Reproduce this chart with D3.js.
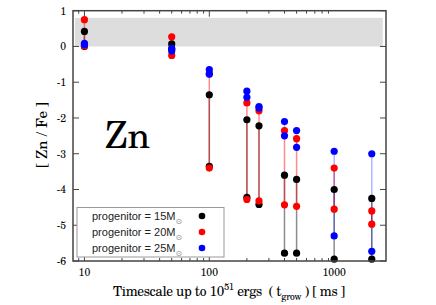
<!DOCTYPE html>
<html>
<head>
<meta charset="utf-8">
<script src="https://cdn.jsdelivr.net/npm/d3@7"></script>
<style>
  body { margin: 0; background: #fff; }
</style>
</head>
<body>
<div id="chart"></div>
<script>
// DATA
// timescales (ms) where the models were run
var timescales = [10, 50, 100, 200, 250, 400, 500, 1000, 2000];
// two [Zn/Fe] values per timescale for each progenitor
var m15 = [[0.0, 0.42], [0.07, -0.08], [-1.35, -3.35], [-2.05, -4.22], [-2.22, -4.42], [-3.6, -5.78], [-3.72, -5.78], [-4.0, -5.95], [-4.25, -5.95]];
var m20 = [[0.02, 0.75], [0.27, -0.25], [-0.75, -3.4], [-1.58, -4.28], [-1.8, -4.32], [-2.35, -4.43], [-2.58, -4.47], [-3.4, -4.55], [-4.6, -4.97]];
var m25 = [[0.05, 0.09], [-0.05, -0.13], [-0.65, -0.78], [-1.25, -1.42], [-1.68, -1.72], [-2.1, -2.5], [-2.35, -2.82], [-2.93, -5.3], [-3.0, -5.73]];
var seriesNames = ["progenitor = 15M", "progenitor = 20M", "progenitor = 25M"];
var xTicks = [10, 100, 1000];
var yTicks = [-6, -5, -4, -3, -2, -1, 0, 1];
var solarBand = [0, 0.8];

var W = 436, H = 305;
var serif = "'TeX Gyre Schola', 'Liberation Serif'";
var sans = "'Liberation Sans', 'DejaVu Sans'";

var svg = d3.select("#chart").append("svg")
  .attr("width", W).attr("height", H);

// scales
var x = d3.scaleLog().domain([8.1, 2600]).range([73, 386]);
var y = d3.scaleLinear().domain([-6, 1]).range([261, 10.7]);

// gray solar band
svg.append("rect")
  .attr("x", x(8.4)).attr("width", x(2450) - x(8.4))
  .attr("y", y(solarBand[1])).attr("height", y(solarBand[0]) - y(solarBand[1]))
  .attr("fill", "#dddddd");

// ticks: inward on all four sides
var minor = [];
[10, 100, 1000].forEach(function (d) {
  for (var k = 1; k < 10; k++) {
    var v = d / 10 * k;
    if (v >= 8.1 && v <= 2600) minor.push(v);
  }
});
var tickG = svg.append("g").attr("stroke", "#444").attr("stroke-width", 1);
minor.forEach(function (v) {
  var len = xTicks.indexOf(v) >= 0 ? 6 : 3;
  tickG.append("line").attr("x1", x(v)).attr("x2", x(v)).attr("y1", y(-6)).attr("y2", y(-6) - len);
  tickG.append("line").attr("x1", x(v)).attr("x2", x(v)).attr("y1", y(1)).attr("y2", y(1) + len);
});
yTicks.forEach(function (v) {
  tickG.append("line").attr("x1", 73).attr("x2", 79).attr("y1", y(v)).attr("y2", y(v));
  tickG.append("line").attr("x1", 386).attr("x2", 380).attr("y1", y(v)).attr("y2", y(v));
});

// tick labels
svg.append("g").selectAll("text").data(xTicks).enter().append("text")
  .style("font-family", serif)
  .attr("x", function (d) { return x(d); })
  .attr("y", 276)
  .attr("text-anchor", "middle")
  .attr("font-size", 10.5)
  .text(function (d) { return d; });
svg.append("g").selectAll("text").data(yTicks).enter().append("text")
  .style("font-family", serif)
  .attr("x", 66)
  .attr("y", function (d) { return y(d) + 4; })
  .attr("text-anchor", "end")
  .attr("font-size", 10.5)
  .text(function (d) { return d; });

// vertical lines joining the two values of each progenitor
var series = [
  { data: m15, color: "#000000", lineOpacity: 0.45 },
  { data: m20, color: "#ff0000", lineOpacity: 0.45 },
  { data: m25, color: "#0000ff", lineOpacity: 0.3 }
];
series.forEach(function (s) {
  svg.append("g").selectAll("line").data(s.data).enter().append("line")
    .attr("x1", function (d, i) { return x(timescales[i]); })
    .attr("x2", function (d, i) { return x(timescales[i]); })
    .attr("y1", function (d) { return y(d[0]); })
    .attr("y2", function (d) { return y(d[1]); })
    .attr("stroke", s.color)
    .attr("stroke-opacity", s.lineOpacity)
    .attr("stroke-width", 1.5);
});
// dots
series.forEach(function (s) {
  var pts = [];
  s.data.forEach(function (d, i) {
    pts.push([timescales[i], d[0]]);
    pts.push([timescales[i], d[1]]);
  });
  svg.append("g").selectAll("circle").data(pts).enter().append("circle")
    .attr("cx", function (d) { return x(d[0]); })
    .attr("cy", function (d) { return y(d[1]); })
    .attr("r", 3.6)
    .attr("fill", s.color);
});

// frame
svg.append("rect")
  .attr("x", 73).attr("y", y(1))
  .attr("width", 386 - 73).attr("height", y(-6) - y(1))
  .attr("fill", "none").attr("stroke", "#444").attr("stroke-width", 1.5);

// big element label
svg.append("text")
  .style("font-family", serif)
  .attr("x", 105).attr("y", 148)
  .attr("font-size", 37)
  .text("Zn");

// legend
var lg = svg.append("g");
lg.append("rect")
  .attr("x", 77).attr("y", 207.5).attr("width", 147).attr("height", 49.5)
  .attr("fill", "#fff").attr("stroke", "#999").attr("stroke-width", 1);
seriesNames.forEach(function (name, i) {
  var yy = 216 + i * 16;
  var t = lg.append("text")
    .style("font-family", sans)
    .attr("x", 92).attr("y", yy + 4)
    .attr("font-size", 11)
    .attr("fill", "#222");
  t.append("tspan").text(name);
  t.append("tspan").attr("dy", 4).attr("font-size", 8).attr("fill", "#888").text("\u2299");
  lg.append("circle").attr("cx", 202).attr("cy", yy).attr("r", 3.3).attr("fill", series[i].color);
});

// axis titles
var xt = svg.append("text")
  .style("font-family", serif)
  .style("white-space", "pre")
  .attr("x", 229).attr("y", 296)
  .attr("text-anchor", "middle")
  .attr("font-size", 13.5)
  .attr("letter-spacing", -0.35);
xt.append("tspan").text("Timescale up to 10");
xt.append("tspan").attr("dy", -6).attr("font-size", 9.5).text("51");
xt.append("tspan").attr("dy", 6).text(" ergs  ( t");
xt.append("tspan").attr("dy", 4).attr("font-size", 9.5).text("grow");
xt.append("tspan").attr("dy", -4).text(" ) [ ms ]");

svg.append("text")
  .style("font-family", serif)
  .attr("transform", "translate(47,135) rotate(-90)")
  .attr("text-anchor", "middle")
  .attr("font-size", 15)
  .text("[ Zn / Fe ]");
</script>
</body>
</html>
